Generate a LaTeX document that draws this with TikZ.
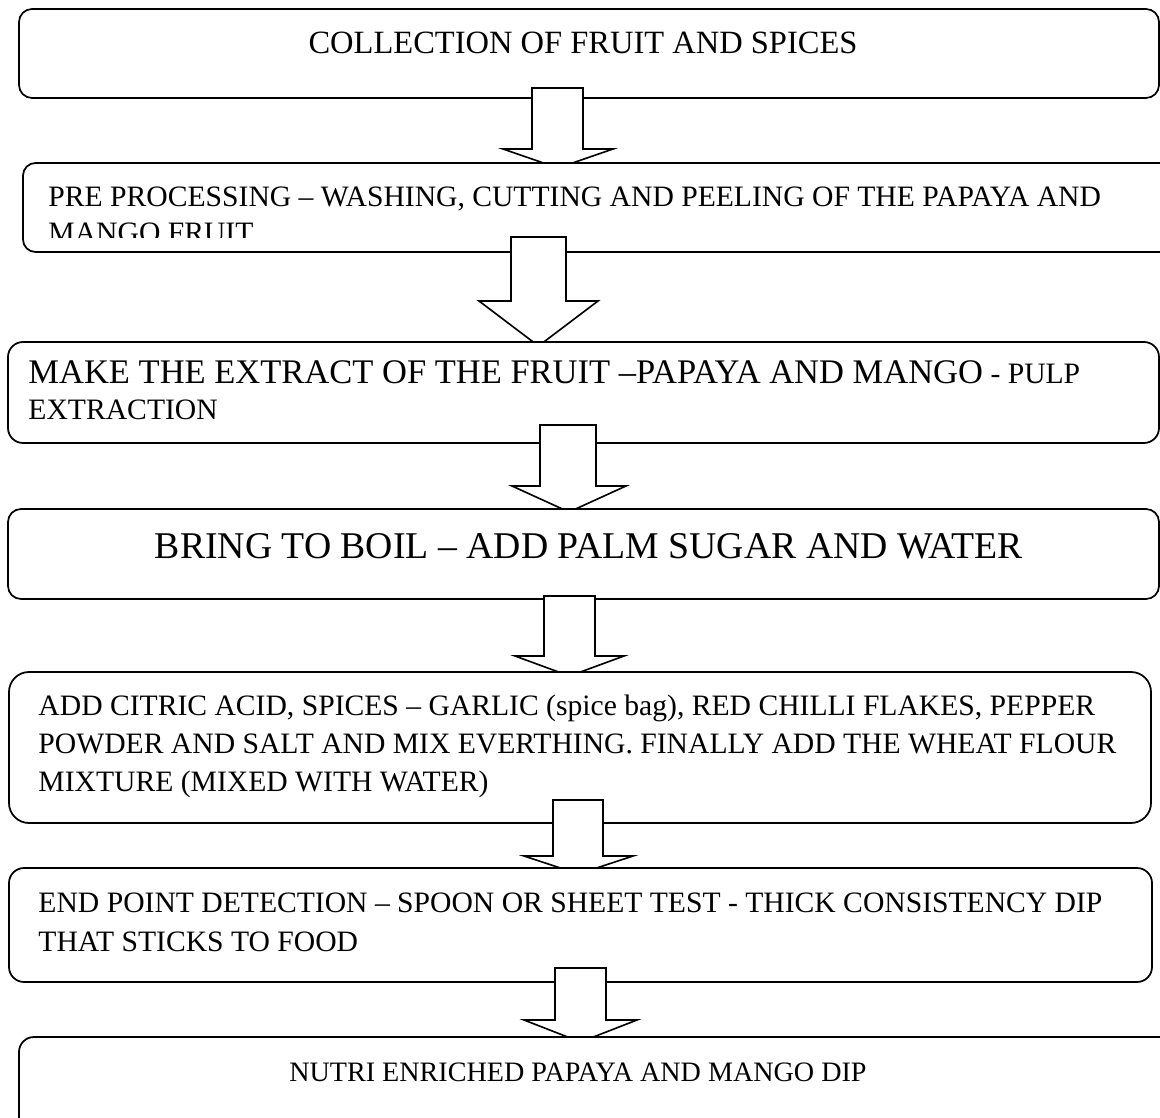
\documentclass[tikz,border=0pt]{standalone}
\usepackage{fontspec}
\setmainfont{Liberation Serif}
\usetikzlibrary{fit}
\tikzset{
  box/.style={draw, line width=0.7pt, fill=white, rounded corners=#1, inner sep=0pt},
  arr/.style={draw, line width=0.65pt, fill=white, line join=miter},
  txt/.style={inner sep=0pt, anchor=base west, font=\fontsize{11.85}{14}\selectfont},
  ctxt/.style={inner sep=0pt, anchor=base, font=\fontsize{#1}{14}\selectfont},
}
\newcommand\blkarrow[7]{%
  \draw[arr] (#1,#3) -- (#2,#3) -- (#2,#4) -- (#6,#4) -- ({(#5+#6)/2},#7) -- (#5,#4) -- (#1,#4) -- cycle;}
\begin{document}
\begin{tikzpicture}[x=0.4pt, y=-0.4pt]
\useasboundingbox (0,0) rectangle (1160,1118);
\clip (0,0) rectangle (1160,1118);
% box 1
\node[box=5.2pt, fit={(19,9) (1159,98)}] (b1) {};
\node[ctxt=13] (t1) at (583,54) {COLLECTION OF FRUIT AND SPICES};
\blkarrow{532}{583}{88}{149}{503}{613}{168}
% box 2
\node[box=5pt, fit={(23,163) (1180,252)}] (b2) {};
\begin{scope}
\clip (23,163) rectangle (1180,237.5);
\node[txt] (t2a) at (48,207) {PRE PROCESSING – WASHING, CUTTING AND PEELING OF THE PAPAYA AND};
\node[txt] (t2b) at (48,243) {MANGO FRUIT};
\end{scope}
\blkarrow{511}{566}{237}{301}{479}{598}{346}
% box 3
\node[box=6pt, fit={(8,342) (1159,443)}] (b3) {};
\node[txt] (t3a) at (28,384) {{\fontsize{13.8}{16}\selectfont MAKE THE EXTRACT OF THE FRUIT –PAPAYA AND MANGO} - PULP};
\node[txt] (t3b) at (28,420) {EXTRACTION};
\blkarrow{540}{596}{425}{486}{512}{626}{512}
% box 4
\node[box=5.2pt, fit={(8,509) (1159,599)}] (b4) {};
\node[ctxt=15.1] (t4) at (589,558) {BRING TO BOIL – ADD PALM SUGAR AND WATER};
\blkarrow{544}{595}{596}{656}{515}{624}{676}
% box 5
\node[box=8pt, fit={(9,672) (1151,823)}] (b5) {};
\node[txt] (t5a) at (38,715) {ADD CITRIC ACID, SPICES – GARLIC (spice bag), RED CHILLI FLAKES, PEPPER};
\node[txt] (t5b) at (38,753) {POWDER AND SALT AND MIX EVERTHING. FINALLY ADD THE WHEAT FLOUR};
\node[txt] (t5c) at (38,791) {MIXTURE (MIXED WITH WATER)};
\blkarrow{553}{603}{800}{856}{524}{633}{874}
% box 6
\node[box=6pt, fit={(9,868) (1152,982)}] (b6) {};
\node[txt] (t6a) at (38,912) {END POINT DETECTION – SPOON OR SHEET TEST - THICK CONSISTENCY DIP};
\node[txt] (t6b) at (38,951) {THAT STICKS TO FOOD};
\blkarrow{555}{606}{968}{1020}{524}{637}{1042}
% box 7
\node[box=6pt, fit={(19,1037) (1180,1145)}] (b7) {};
\node[ctxt=11.25] (t7) at (578,1081) {NUTRI ENRICHED PAPAYA AND MANGO DIP};
\end{tikzpicture}
\end{document}
